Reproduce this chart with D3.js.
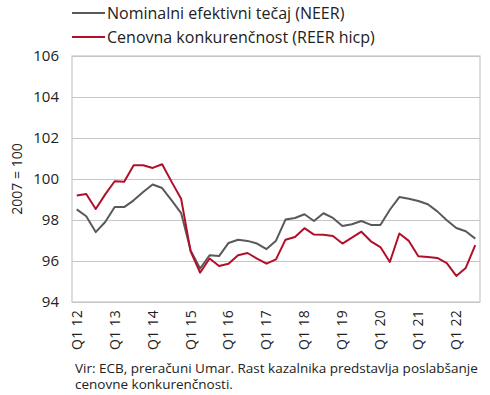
<!DOCTYPE html>
<html>
<head>
<meta charset="utf-8">
<script src="https://cdn.jsdelivr.net/npm/d3@7"></script>
<style>
  html, body { margin: 0; padding: 0; background: #fff; overflow: hidden; }
  svg { display: block; }
  svg text { font-family: "Open Sans", "Noto Sans", sans-serif; fill: #222; }
</style>
</head>
<body>
<div id="chart"></div>
<script>
// quarters Q1 2012 .. Q3 2022
const years = d3.range(12, 23);
const quarters = [];
years.forEach(y => [1, 2, 3, 4].forEach(q => {
    if (y === 22 && q === 4) return;
    quarters.push(`Q${q} ${y}`);
}));

const neer = [
    98.52, 98.18, 97.41, 97.90, 98.63, 98.63, 98.96, 99.37, 99.73, 99.56,
    98.96, 98.34, 96.52, 95.63, 96.28, 96.24, 96.88, 97.04, 96.98, 96.85,
    96.58, 96.99, 98.02, 98.10, 98.28, 97.95, 98.33, 98.10, 97.71, 97.79,
    97.95, 97.76, 97.76, 98.50, 99.12, 99.04, 98.93, 98.77, 98.42, 97.99,
    97.61, 97.45, 97.09
];
const reer = [
    99.20, 99.27, 98.54, 99.25, 99.89, 99.87, 100.67, 100.67, 100.54, 100.72,
    99.86, 99.04, 96.47, 95.43, 96.12, 95.76, 95.87, 96.28, 96.39, 96.12,
    95.87, 96.08, 97.04, 97.17, 97.60, 97.29, 97.28, 97.22, 96.85, 97.14,
    97.43, 96.96, 96.68, 95.95, 97.34, 96.98, 96.23, 96.20, 96.15, 95.90,
    95.27, 95.66, 96.77
];
const yTicks = [94, 96, 98, 100, 102, 104, 106];
const xTickLabels = quarters.filter(q => q.startsWith('Q1'));

const seriesNames = ['Nominalni efektivni tečaj (NEER)', 'Cenovna konkurenčnost (REER hicp)'];
const seriesColors = ['#595959', '#b0102a'];

const width = 490, height = 395;
const margin = { top: 56, right: 10, bottom: 93, left: 72 };
const innerWidth = width - margin.left - margin.right;
const innerHeight = height - margin.top - margin.bottom;

const svg = d3.select('#chart').append('svg')
    .attr('width', width)
    .attr('height', height);

const g = svg.append('g').attr('transform', `translate(${margin.left},${margin.top})`);

const x = d3.scalePoint()
    .domain(quarters)
    .range([0, innerWidth])
    .padding(0.5);

const y = d3.scaleLinear()
    .domain([94, 106])
    .range([innerHeight, 0]);

// gridlines + y labels
g.append('g')
    .call(d3.axisLeft(y).tickValues(yTicks).tickSize(-innerWidth).tickPadding(13))
    .call(s => s.select('.domain').remove())
    .call(s => s.selectAll('line').attr('stroke', '#c6c6c6').attr('stroke-width', 1))
    .call(s => s.selectAll('text').attr('font-size', 15).style('font-family', '"Open Sans", sans-serif').attr('fill', '#222'));

// frame
g.append('rect')
    .attr('x', 0).attr('y', 0)
    .attr('width', innerWidth).attr('height', innerHeight)
    .attr('fill', 'none')
    .attr('stroke', '#c6c6c6')
    .attr('stroke-width', 1.2);

// x labels, rotated, one per year
g.append('g')
    .selectAll('text')
    .data(xTickLabels)
    .join('text')
    .attr('transform', d => `translate(${x(d)},${innerHeight + 8}) rotate(-90)`)
    .attr('text-anchor', 'end')
    .attr('dy', '0.35em')
    .attr('font-size', 14)
    .attr('letter-spacing', 0.3)
    .text(d => d);

// y title
svg.append('text')
    .attr('transform', `translate(17,${margin.top + innerHeight / 2}) rotate(-90)`)
    .attr('text-anchor', 'middle')
    .attr('dy', '0.35em')
    .attr('font-size', 14)
    .text('2007 = 100');

// lines
const line = d3.line()
    .x((d, i) => x(quarters[i]))
    .y(d => y(d));

[neer, reer].forEach((vals, k) => {
    g.append('path')
        .datum(vals)
        .attr('fill', 'none')
        .attr('stroke', seriesColors[k])
        .attr('stroke-width', 2)
        .attr('stroke-linejoin', 'round')
        .attr('d', line);
});

// legend
const legend = svg.append('g');
seriesNames.forEach((name, k) => {
    const ly = 13 + k * 24;
    legend.append('line')
        .attr('x1', 72).attr('x2', 105)
        .attr('y1', ly).attr('y2', ly)
        .attr('stroke', seriesColors[k])
        .attr('stroke-width', 2);
    legend.append('text')
        .attr('x', 107).attr('y', ly)
        .attr('dy', '0.35em')
        .attr('font-size', 16)
        .text(name);
});

// footnote
const note = [
    'Vir: ECB, preračuni Umar. Rast kazalnika predstavlja poslabšanje',
    'cenovne konkurenčnosti.'
];
note.forEach((t, i) => {
    svg.append('text')
        .attr('x', 75)
        .attr('y', 373 + i * 16)
        .attr('font-size', 13.5)
        .text(t);
});
</script>
</body>
</html>
